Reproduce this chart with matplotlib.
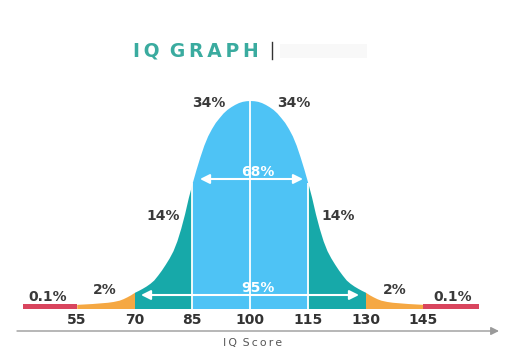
import numpy as np
import matplotlib
matplotlib.use("Agg")
import matplotlib.pyplot as plt
from matplotlib.patches import Rectangle

# ---- data ----
iq = [55, 57, 59, 61, 63, 64.5, 66, 67, 68, 69, 70, 71, 72, 73, 74, 75, 76, 77,
      78, 79, 80, 81, 82, 83, 84, 85, 86, 87, 88, 89, 90, 91, 92, 93, 94, 95,
      96, 97, 98, 99, 100,
      101, 102, 103, 104, 105, 106, 107, 108, 109, 110, 111, 112, 113, 114,
      115, 116, 117, 118, 119, 120, 121, 122, 123, 124, 125, 126, 127, 128,
      129, 130, 131, 132, 133, 134, 135.5, 137, 139, 141, 143, 145]
density = [0.02, 0.022, 0.024, 0.027, 0.03, 0.034, 0.04, 0.047, 0.056, 0.066,
           0.078, 0.087, 0.097, 0.108, 0.121, 0.137, 0.16, 0.185, 0.213, 0.243,
           0.278, 0.325, 0.385, 0.455, 0.535, 0.605, 0.67, 0.73, 0.785, 0.83,
           0.865, 0.895, 0.918, 0.94, 0.957, 0.97, 0.981, 0.99, 0.996, 0.999,
           1.0,
           0.999, 0.996, 0.99, 0.981, 0.97, 0.957, 0.94, 0.918, 0.895, 0.865,
           0.83, 0.785, 0.73, 0.67, 0.605, 0.535, 0.455, 0.385, 0.325, 0.278,
           0.243, 0.213, 0.185, 0.16, 0.137, 0.121, 0.108, 0.097, 0.087, 0.078,
           0.066, 0.056, 0.047, 0.04, 0.034, 0.03, 0.027, 0.024, 0.022, 0.02]

bands = [(55, 70), (70, 85), (85, 115), (115, 130), (130, 145)]
band_colors = ["#f5a843", "#17a9a9", "#4ec3f5", "#17a9a9", "#f5a843"]
tails = [(41, 55), (145, 159.5)]
tail_color = "#d9455e"

ticks = [55, 70, 85, 100, 115, 130, 145]
sd_lines = [85, 100, 115]

pct_labels = ["0.1%", "2%", "14%", "34%", "34%", "14%", "2%", "0.1%"]
pct_px = [(48, 297), (105, 290), (163, 216), (209, 103),
          (294, 103), (338, 216), (395, 290), (453, 297)]

# ---- layout helpers (pixel -> data) ----
W, H = 521, 353
def X(px):
    return 100 + (px - 250) / 3.85
def Y(py):
    return (308.5 - py) / 208.0

x = np.array(iq, dtype=float)
y = np.array(density)

fig = plt.figure(figsize=(W / 100, H / 100), dpi=100)
ax = fig.add_axes([0, 0, 1, 1])
ax.set_xlim(X(0), X(W))
ax.set_ylim(Y(H), Y(0))
ax.axis("off")

for (a, b), c in zip(bands, band_colors):
    m = (x >= a) & (x <= b)
    ax.fill_between(x[m], 0, y[m], color=c, lw=0, zorder=2)

for a, b in tails:
    ax.fill_between([a, b], 0, 0.024, color=tail_color, lw=0, zorder=2)

for v in sd_lines:
    h = y[list(x).index(v)]
    ax.vlines(v, 0, h, color="white", lw=1.3, zorder=3)

# double arrows
ax.annotate("", xy=(X(200), Y(179)), xytext=(X(303), Y(179)),
            arrowprops=dict(arrowstyle="<|-|>", color="white", lw=1.5,
                            mutation_scale=14, shrinkA=0, shrinkB=0), zorder=4)
ax.annotate("", xy=(X(141), Y(295)), xytext=(X(359), Y(295)),
            arrowprops=dict(arrowstyle="<|-|>", color="white", lw=1.5,
                            mutation_scale=14, shrinkA=0, shrinkB=0), zorder=4)
ax.text(X(258), Y(172), "68%", color="white", fontsize=10, fontweight="bold",
        ha="center", va="center", zorder=5)
ax.text(X(258), Y(288), "95%", color="white", fontsize=10, fontweight="bold",
        ha="center", va="center", zorder=5)

for lab, (px, py) in zip(pct_labels, pct_px):
    ax.text(X(px), Y(py), lab, color="#3a3a3a", fontsize=10, fontweight="bold",
            ha="center", va="center", zorder=5)

for t in ticks:
    ax.text(t, Y(320), str(t), color="#333333", fontsize=10, fontweight="bold",
            ha="center", va="center")

# x axis arrow
ax.annotate("", xy=(X(499), Y(331)), xytext=(X(17), Y(331)),
            arrowprops=dict(arrowstyle="-|>", color="#9a9a9a", lw=1,
                            mutation_scale=12, shrinkA=0, shrinkB=0))
ax.text(X(253), Y(343), "I\u2009Q\u2009 S\u2009c\u2009o\u2009r\u2009e", color="#555555",
        fontsize=7.8, ha="center", va="center")

# title
ts = "\u2009"
title = ts.join("IQ") + " " + ts + ts.join("GRAPH")
fig.text(196 / W, 1 - 51 / H, title, color="#3aab9f", fontsize=13.5,
         fontweight="bold", ha="center", va="center")
fig.add_artist(plt.Line2D([271.5 / W, 271.5 / W], [1 - 42 / H, 1 - 59 / H],
                          color="#333333", lw=1))
fig.add_artist(Rectangle((280 / W, 1 - 58 / H), 87 / W, 14 / H,
                         transform=fig.transFigure, color="#f8f8f8", lw=0))

fig.savefig("out.png", dpi=100)
